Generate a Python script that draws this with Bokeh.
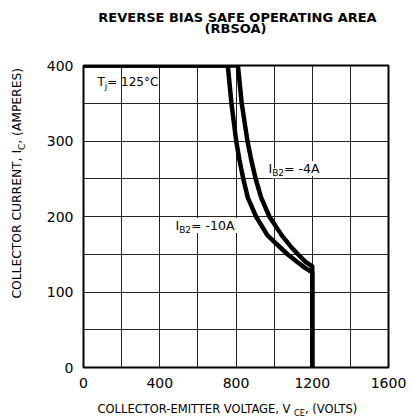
import math
from bokeh.plotting import figure
from bokeh.models import Range1d, FixedTicker, Label
from bokeh.layouts import column, row
from bokeh.embed import file_html
from bokeh.resources import INLINE

# ---- data ----
vce_left = [0, 757, 776, 801, 818, 838, 862, 905, 965, 1070, 1120, 1162, 1200, 1200]
ic_left = [400, 400, 350, 300, 275, 250, 225, 200, 175, 150, 140, 132, 126, 0]
vce_right = [0, 810, 830, 860, 880, 903, 932, 975, 1040, 1088, 1125, 1165, 1200, 1200]
ic_right = [400, 400, 350, 300, 275, 250, 225, 200, 175, 160, 150, 140, 134, 0]

x_ticks = [0, 400, 800, 1200, 1600]
y_ticks = [0, 100, 200, 300, 400]
x_grid = [0, 200, 400, 600, 800, 1000, 1200, 1400, 1600]
y_grid = [0, 50, 100, 150, 200, 250, 300, 350, 400]

TOTAL_W = 408
FONT = "DejaVu Sans"
W = {' ': .318, '(': .390, ')': .390, ',': .318, '-': .361, '=': .838, '°': .500,
     'A': .684, 'B': .686, 'C': .698, 'E': .632, 'G': .775, 'I': .295, 'L': .557,
     'M': .863, 'N': .748, 'O': .787, 'P': .603, 'R': .695, 'S': .635, 'T': .611,
     'U': .732, 'V': .684, 'j': .278}
for d in "0123456789":
    W[d] = .636


def tw(s):
    return sum(W.get(c, .6) for c in s)


def rich(fig, pieces, x, y, size, angle=0.0, bg=None):
    """Text made of pieces; (x, y) is the start of the text at its cap middle."""
    off = 0.0
    for txt, sub in pieces:
        fs = size * 0.72 if sub else size
        dy = -0.38 * size if sub else 0.0
        if angle == 0:
            xo, yo = off, dy
        else:
            xo, yo = -dy, off
        lab = Label(x=x, y=y, x_offset=xo, y_offset=yo, text=txt, angle=angle,
                    text_font=FONT, text_font_size=f"{fs:.2f}px",
                    text_baseline="middle", text_align="left", text_color="black")
        if bg:
            lab.background_fill_color = bg
        fig.add_layout(lab)
        off += tw(txt) * fs


def pixel_fig(w, h, top=0, bottom=0, y0=None, y1=None):
    f = figure(width=w, height=h, output_backend="svg", toolbar_location=None,
               x_range=Range1d(0, w),
               y_range=Range1d(y1 if y1 is not None else h, y0 if y0 is not None else 0),
               x_axis_location=None, y_axis_location=None,
               min_border_left=0, min_border_right=0,
               min_border_top=top, min_border_bottom=bottom)
    f.xgrid.visible = False
    f.ygrid.visible = False
    f.outline_line_color = None
    f.background_fill_color = "white"
    f.border_fill_color = "white"
    return f


# ---- title strip (y 0..45) ----
top = pixel_fig(TOTAL_W, 45)
for txt, cy, cx in (("REVERSE BIAS SAFE OPERATING AREA", 17, 237), ("(RBSOA)", 28, 235)):
    top.add_layout(Label(x=cx, y=cy, text=txt, text_font=FONT, text_font_size="13px",
                         text_font_style="bold", text_align="center",
                         text_baseline="middle", text_color="black"))

# ---- y-axis title strip (x 0..35, y 45..395); its frame spans picture y 65..367 ----
left = pixel_fig(35, 350, top=20, bottom=28, y0=65, y1=367)
rich(left, [("COLLECTOR CURRENT, I", False), ("C", True), (", (AMPERES)", False)],
     16.5, 298, 12.3, angle=math.pi / 2)

# ---- main chart (x 35..408, y 45..395); frame at 83..388 x 65..367 ----
p = figure(width=TOTAL_W - 35, height=350, output_backend="svg", toolbar_location=None,
           x_range=Range1d(0, 1600), y_range=Range1d(0, 400),
           min_border_left=48, min_border_right=20, min_border_top=20, min_border_bottom=28)
p.background_fill_color = "white"
p.border_fill_color = "white"
p.outline_line_color = "black"
p.outline_line_width = 2

for ax, ticks in ((p.xaxis, x_ticks), (p.yaxis, y_ticks)):
    ax.ticker = FixedTicker(ticks=ticks)
    ax.axis_line_color = None
    ax.major_tick_line_color = None
    ax.minor_tick_line_color = None
    ax.major_tick_out = 0
    ax.major_tick_in = 0
    ax.major_label_text_font = FONT
    ax.major_label_text_font_size = "14px"
    ax.major_label_text_color = "black"
p.xaxis.major_label_standoff = 10
p.yaxis.major_label_standoff = 10

p.xgrid.ticker = FixedTicker(ticks=x_grid)
p.ygrid.ticker = FixedTicker(ticks=y_grid)
for g in (p.xgrid, p.ygrid):
    g.grid_line_color = "#222222"
    g.grid_line_width = 1
    g.grid_line_alpha = 1.0

p.line(vce_left, ic_left, line_color="black", line_width=4.5, line_join="round")
p.line(vce_right, ic_right, line_color="black", line_width=4.5, line_join="round")


def px2x(px):
    return (px - 83) * 1600 / 305


def py2y(py):
    return (367 - py) * 400 / 302


rich(p, [("T", False), ("j", True), (" = 125°C", False)], px2x(97), py2y(81), 12.0)
rich(p, [("I", False), ("B2", True), (" = -10A", False)], px2x(175), py2y(225), 12.5, bg="white")
rich(p, [("I", False), ("B2", True), (" = -4A", False)], px2x(268), py2y(168), 12.5, bg="white")

# ---- x-axis title strip (y 395..417) ----
bottom = pixel_fig(TOTAL_W, 22)
rich(bottom, [("COLLECTOR-EMITTER VOLTAGE, V", False), ("CE", True), (", (VOLTS)", False)],
     97, 408 - 395, 11.5)

layout = column(top, row(left, p), bottom)
open("out.html", "w").write(file_html(layout, INLINE))
